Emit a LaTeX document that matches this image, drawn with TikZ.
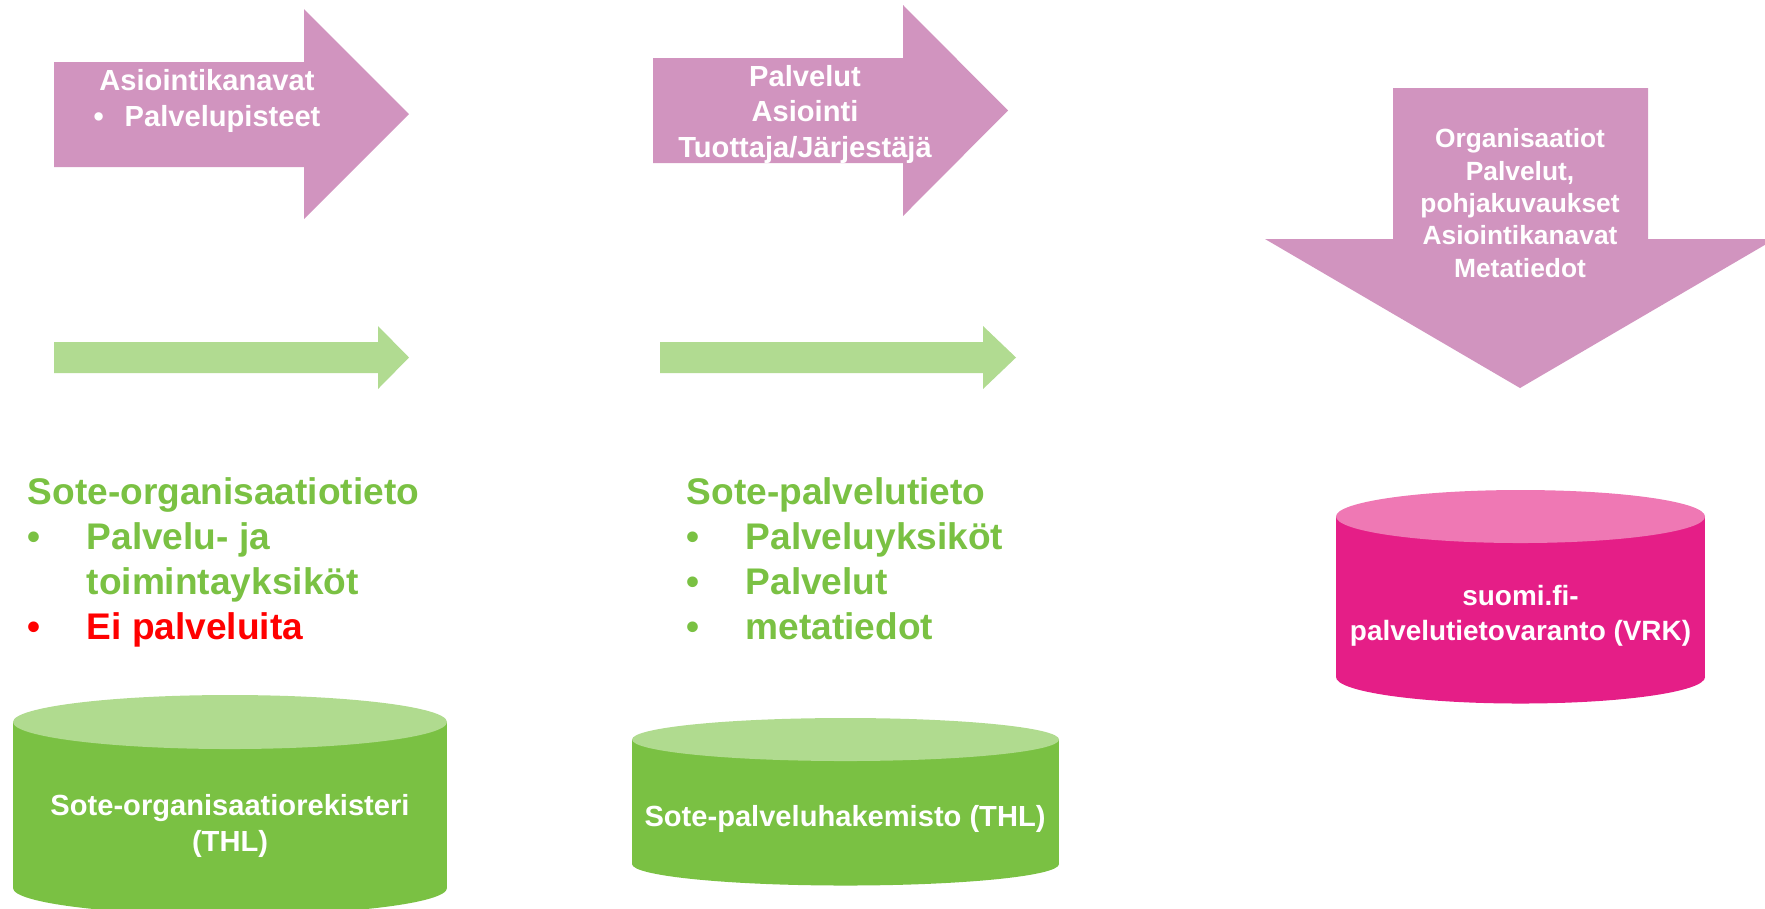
\documentclass[tikz,border=0pt]{standalone}
\usepackage{fontspec}
\setmainfont{Liberation Sans}
\definecolor{flowPink}{HTML}{D194BF}
\definecolor{flowGreen}{HTML}{B1DB91}
\definecolor{soteGreen}{HTML}{7AC143}
\definecolor{soteTop}{HTML}{B0DB8F}
\definecolor{vrkBody}{HTML}{E51E87}
\definecolor{vrkTop}{HTML}{EF78B4}
\definecolor{noRed}{HTML}{FF0000}
\newcommand{\bullitem}{\makebox[0.59cm][l]{\textbullet}}

\begin{document}
\begin{tikzpicture}[
  flowtext/.style={text=white,align=center,inner sep=0pt,anchor=base,
    font=\bfseries\fontsize{8.28}{10.1}\selectfont},
  listtext/.style={text=soteGreen,align=left,inner sep=0pt,anchor=base west,
    font=\bfseries\fontsize{10.55}{12.72}\selectfont},
  dbtext/.style={text=white,align=center,inner sep=0pt,anchor=base,
    font=\bfseries\fontsize{8.28}{10.24}\selectfont}
]
\useasboundingbox (0,0) rectangle (17.65,-9.08);

% -------------------------
% Geometry (base = last line of a node)
% -------------------------
\def\yBarTop{-3.42}
\def\yBarBot{-3.73}
\def\yBarMid{-3.575}
\def\yListBase{-6.39}

% -------------------------
% Pink flow arrows
% -------------------------
\fill[flowPink] (0.54,-0.62) -- (3.04,-0.62) -- (3.04,-0.09) -- (4.09,-1.14)
  -- (3.04,-2.19) -- (3.04,-1.67) -- (0.54,-1.67) -- cycle;
\fill[flowPink] (6.53,-0.58) -- (9.03,-0.58) -- (9.03,-0.05) -- (10.08,-1.105)
  -- (9.03,-2.16) -- (9.03,-1.63) -- (6.53,-1.63) -- cycle;
\fill[flowPink] (13.93,-0.88) -- (16.48,-0.88) -- (16.48,-2.39) -- (17.65,-2.39)
  -- (17.65,-2.448) -- (15.20,-3.88) -- (12.65,-2.39) -- (13.93,-2.39) -- cycle;

\node[flowtext] (chan) at (2.07,-1.26) {Asiointikanavat\\
  \textbullet\hspace{0.21cm}Palvelupisteet};
\node[flowtext] (serv) at (8.05,-1.57) {Palvelut\\Asiointi\\Tuottaja/Järjestäjä};
\node[flowtext,font=\bfseries\fontsize{7.5}{9.2}\selectfont] (meta) at (15.20,-2.77)
  {Organisaatiot\\Palvelut,\\pohjakuvaukset\\Asiointikanavat\\Metatiedot};

% -------------------------
% Green bars
% -------------------------
\foreach \xa/\xb/\xc in {0.54/3.78/4.09, 6.60/9.83/10.16} {
  \fill[flowGreen] (\xa,\yBarTop) -- (\xb,\yBarTop) -- (\xb,-3.26) -- (\xc,\yBarMid)
    -- (\xb,-3.89) -- (\xb,\yBarBot) -- (\xa,\yBarBot) -- cycle;
}

% -------------------------
% Lists
% -------------------------
\node[listtext] (orgInfo) at (0.27,\yListBase) {Sote-organisaatiotieto\\
  \bullitem Palvelu- ja\\
  \hspace*{0.59cm}toimintayksiköt\\
  \textcolor{noRed}{\bullitem Ei palveluita}};
\node[listtext] (servInfo) at (6.86,\yListBase) {Sote-palvelutieto\\
  \bullitem Palveluyksiköt\\
  \bullitem Palvelut\\
  \bullitem metatiedot};

% -------------------------
% Databases
% -------------------------
\foreach \cx/\yt/\yb/\rx/\ry/\body/\top in {2.30/-7.22/-8.88/2.17/0.27/soteGreen/soteTop,
    8.455/-7.395/-8.64/2.135/0.215/soteGreen/soteTop,
    15.205/-5.165/-6.77/1.845/0.265/vrkBody/vrkTop} {
  \fill[\body] (\cx,\yb) ellipse [x radius=\rx, y radius=\ry];
  \fill[\body] ({\cx-\rx},\yt) rectangle ({\cx+\rx},\yb);
  \fill[\top] (\cx,\yt) ellipse [x radius=\rx, y radius=\ry];
}

\node[dbtext] (orgReg) at (2.30,-8.51) {Sote-organisaatiorekisteri\\(THL)};
\node[dbtext] (servDir) at (8.45,-8.26) {Sote-palveluhakemisto (THL)};
\node[dbtext,font=\bfseries\fontsize{7.94}{9.96}\selectfont] (vrkStore) at (15.205,-6.40)
  {suomi.fi-\\palvelutietovaranto (VRK)};

\end{tikzpicture}
\end{document}
